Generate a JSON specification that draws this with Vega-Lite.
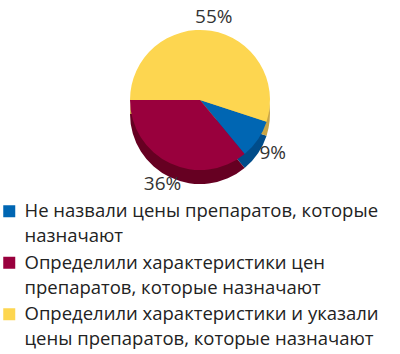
{
  "$schema": "https://vega.github.io/schema/vega-lite/v6.json",
  "width": 400,
  "height": 200,
  "padding": 0,
  "autosize": {"type": "pad"},
  "background": "white",
  "data": {
    "values": [
      {"cat": "Не назвали цены препаратов, которые\nназначают", "v": 9, "label": "9%"},
      {"cat": "Определили характеристики цен\nпрепаратов, которые назначают", "v": 36, "label": "36%"},
      {"cat": "Определили характеристики и указали\nцены препаратов, которые назначают", "v": 55, "label": "55%"}
    ]
  },
  "encoding": {
    "theta": {"field": "v", "type": "quantitative", "stack": true, "scale": {"domain": [0, 100], "range": [1.88496, 8.16814]}},
    "order": {"field": "v", "type": "quantitative", "sort": "ascending"}
  },
  "layer": [
    {
      "mark": {"type": "arc", "outerRadius": 70, "yOffset": 14},
      "encoding": {
        "color": {
          "field": "cat", "type": "nominal",
          "scale": {"domain": ["Не назвали цены препаратов, которые\nназначают", "Определили характеристики цен\nпрепаратов, которые назначают", "Определили характеристики и указали\nцены препаратов, которые назначают"], "range": ["#004C8A", "#660022", "#C8A546"]},
          "legend": null
        }
      }
    },
    {
      "mark": {"type": "arc", "outerRadius": 70},
      "encoding": {
        "color": {
          "field": "cat", "type": "nominal",
          "scale": {"domain": ["Не назвали цены препаратов, которые\nназначают", "Определили характеристики цен\nпрепаратов, которые назначают", "Определили характеристики и указали\nцены препаратов, которые назначают"], "range": ["#0066B3", "#99003D", "#FDD650"]},
          "legend": {
            "title": null,
            "orient": "none",
            "legendX": 0,
            "legendY": 202,
            "symbolType": "square",
            "symbolSize": 144,
            "symbolStrokeWidth": 0,
            "symbolOpacity": 1,
            "labelFont": "Open Sans",
            "labelFontSize": 18.5,
            "labelColor": "#222222",
            "labelLimit": 400,
            "labelOffset": 6,
            "rowPadding": 7.5,
            "labelExpr": "split(datum.label, '\\n')",
            "encode": {"labels": {"update": {"lineHeight": {"value": 25}}}}
          }
        }
      }
    },
    {
      "mark": {"type": "text", "radius": 88, "yOffset": 4, "fontSize": 19, "font": "Open Sans", "color": "#333333"},
      "encoding": {"text": {"field": "label"}}
    }
  ],
  "resolve": {"scale": {"color": "independent"}}
}
